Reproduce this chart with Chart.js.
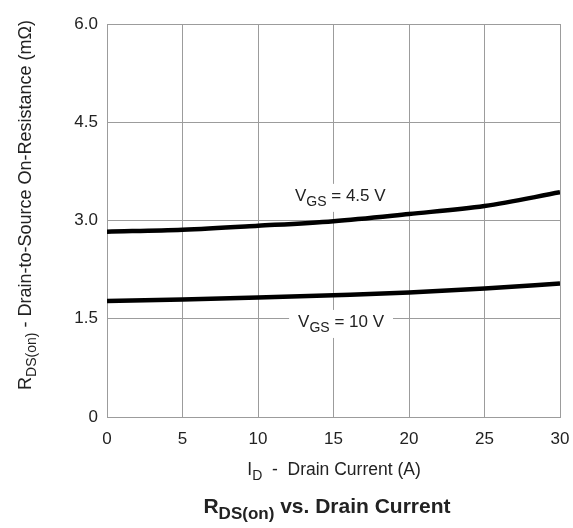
<!DOCTYPE html>
<html>
<head>
<meta charset="utf-8">
<script src="https://cdn.jsdelivr.net/npm/chart.js@4/dist/chart.umd.min.js"></script>
<style>
  html, body { margin: 0; padding: 0; background: #fff; }
  #wrap { width: 573px; height: 528px; }
</style>
</head>
<body>
<div id="wrap"><canvas id="rdsChart" width="573" height="528"></canvas></div>
<script>
// drain current (A) and on-resistance (mOhm) read per gate voltage
var drainCurrent = [0, 5, 10, 15, 20, 25, 30];
var rds_vgs45 = [2.83, 2.86, 2.92, 2.99, 3.10, 3.22, 3.43];
var rds_vgs10 = [1.77, 1.795, 1.825, 1.86, 1.90, 1.96, 2.04];
var yTicks = [0, 1.5, 3.0, 4.5, 6.0];
var xTicks = [0, 5, 10, 15, 20, 25, 30];

var FONT = "'Liberation Sans', Arial, sans-serif";
var gridColor = "#9c9c9c";
var textColor = "#222";

function toPoints(xs, ys) {
    var pts = [];
    xs.forEach((x, i) => { pts.push({ x: x, y: ys[i] }); });
    return pts;
}

function measureParts(ctx, parts, size, weight) {
    var subSize = Math.round(size * 0.8);
    var total = 0;
    parts.forEach(p => {
        ctx.font = weight + " " + (p.sub ? subSize : size) + "px " + FONT;
        p.w = ctx.measureText(p.t).width;
        total += p.w;
    });
    return total;
}

// draws text made of pieces, some of them subscript, centred on x
function drawParts(ctx, parts, x, y, size, weight) {
    var subSize = Math.round(size * 0.8);
    var total = measureParts(ctx, parts, size, weight);
    var cx = x - total / 2;
    ctx.textAlign = "left";
    ctx.textBaseline = "alphabetic";
    parts.forEach(p => {
        ctx.font = weight + " " + (p.sub ? subSize : size) + "px " + FONT;
        ctx.fillText(p.t, cx, y + (p.sub ? size * 0.3 : 0));
        cx += p.w;
    });
    return total;
}

var labelPlugin = {
    id: "curveLabels",
    beforeDatasetsDraw(chart) {
        var ctx = chart.ctx;
        var xs = chart.scales.x, ys = chart.scales.y;
        // label baselines in data units
        var labels = [
            { parts: [{ t: "V" }, { t: "GS", sub: true }, { t: " = 4.5 V" }], x: 15.45, y: 3.30 },
            { parts: [{ t: "V" }, { t: "GS", sub: true }, { t: " = 10 V" }], x: 15.5, y: 1.375 }
        ];
        ctx.save();
        labels.forEach(l => {
            var px = xs.getPixelForValue(l.x);
            var py = ys.getPixelForValue(l.y);
            var w = measureParts(ctx, l.parts, 17, "normal");
            ctx.fillStyle = "#ffffff";
            ctx.fillRect(px - w / 2 - 9, py - 17, w + 18, 28);
            ctx.fillStyle = textColor;
            drawParts(ctx, l.parts, px, py, 17, "normal");
        });
        ctx.restore();
    },
    afterDraw(chart) {
        var ctx = chart.ctx;
        ctx.save();
        ctx.fillStyle = textColor;
        // x axis title
        drawParts(ctx, [{ t: "I" }, { t: "D", sub: true }, { t: "  -  Drain Current (A)" }],
            334, 475, 17.5, "normal");
        // chart title
        drawParts(ctx, [{ t: "R" }, { t: "DS(on)", sub: true }, { t: " vs. Drain Current" }],
            327, 513, 21, "bold");
        // y axis title, rotated
        ctx.translate(31, 205);
        ctx.rotate(-Math.PI / 2);
        drawParts(ctx, [{ t: "R" }, { t: "DS(on)", sub: true }, { t: " - Drain-to-Source On-Resistance (m\u03A9)" }],
            0, 0, 18, "normal");
        ctx.restore();
    }
};

var ctxRds = document.getElementById("rdsChart");

var rdsChart = new Chart(ctxRds, {
    type: "line",
    data: {
        datasets: [
            {
                label: "VGS = 4.5 V",
                data: toPoints(drainCurrent, rds_vgs45),
                borderColor: "#000",
                borderWidth: 4.5,
                pointRadius: 0,
                cubicInterpolationMode: "monotone",
                fill: false
            },
            {
                label: "VGS = 10 V",
                data: toPoints(drainCurrent, rds_vgs10),
                borderColor: "#000",
                borderWidth: 4.5,
                pointRadius: 0,
                cubicInterpolationMode: "monotone",
                fill: false
            }
        ]
    },
    options: {
        responsive: false,
        animation: false,
        layout: { padding: { left: 0, right: 13, top: 24, bottom: 0 } },
        plugins: {
            legend: { display: false },
            tooltip: { enabled: false }
        },
        scales: {
            x: {
                type: "linear",
                min: 0,
                max: 30,
                afterBuildTicks: axis => { axis.ticks = xTicks.map(v => ({ value: v })); },
                afterFit: axis => {
                    axis.height = 111;
                    axis.paddingLeft = 0;
                    axis.paddingRight = 0;
                },
                grid: { color: gridColor, lineWidth: 1, drawTicks: false },
                border: { color: gridColor, width: 1 },
                ticks: {
                    padding: 12,
                    color: textColor,
                    font: { family: FONT, size: 17 },
                    maxRotation: 0
                }
            },
            y: {
                type: "linear",
                min: 0,
                max: 6,
                afterBuildTicks: axis => { axis.ticks = yTicks.map(v => ({ value: v })); },
                afterFit: axis => {
                    axis.width = 107;
                    axis.paddingTop = 0;
                    axis.paddingBottom = 0;
                },
                grid: { color: gridColor, lineWidth: 1, drawTicks: false },
                border: { color: gridColor, width: 1 },
                ticks: {
                    padding: 9,
                    color: textColor,
                    font: { family: FONT, size: 17 },
                    callback: v => (v === 0 ? "0" : v.toFixed(1))
                }
            }
        }
    },
    plugins: [labelPlugin]
});
</script>
</body>
</html>
